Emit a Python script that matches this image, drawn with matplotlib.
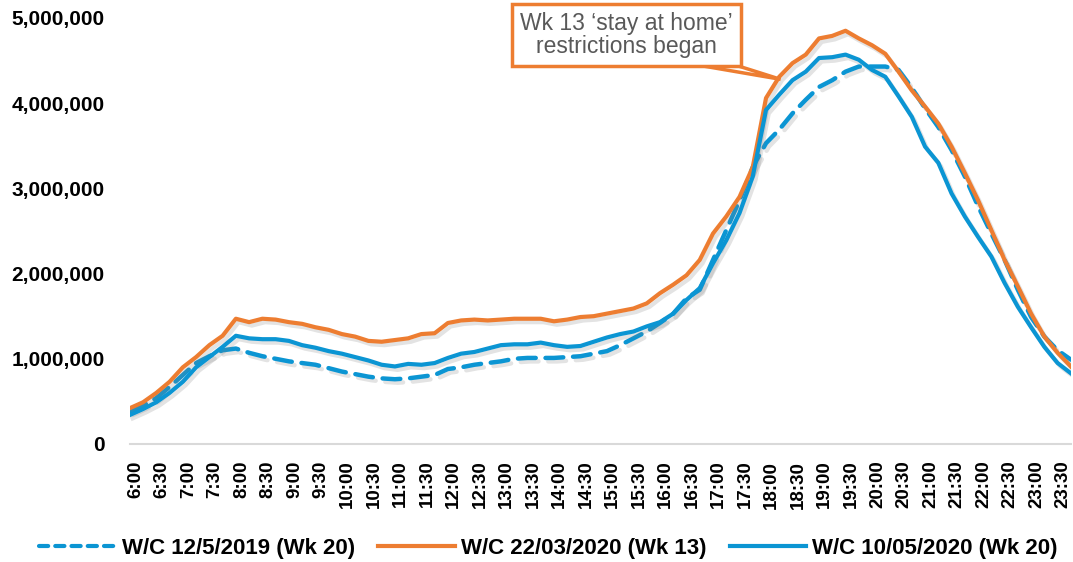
import numpy as np
import matplotlib
matplotlib.use('Agg')
import matplotlib.pyplot as plt
import matplotlib.patheffects as pe
from matplotlib.lines import Line2D
from matplotlib.patches import Polygon
from matplotlib.ticker import FuncFormatter
from matplotlib.transforms import ScaledTranslation

plt.rcParams['font.family'] = ['Liberation Sans', 'DejaVu Sans']

# 15 minute slots 6:00 .. 23:45
slots = [f'{h}:{m:02d}' for h in range(6, 24) for m in (0, 15, 30, 45)]
tick_labels = slots[::2]

# values in millions
wk20_2019 = [0.38, 0.45, 0.54, 0.67, 0.81, 0.95, 1.03, 1.10, 1.12, 1.07, 1.03, 1.00, 0.97, 0.95, 0.93,
             0.89, 0.85, 0.82, 0.79, 0.77, 0.76, 0.77, 0.79, 0.81, 0.88, 0.90, 0.93, 0.95, 0.97,
             1.00, 1.01, 1.01, 1.01, 1.02, 1.03, 1.06, 1.09, 1.16, 1.24, 1.32, 1.42, 1.53, 1.71,
             1.81, 2.16, 2.51, 2.86, 3.25, 3.53, 3.69, 3.88, 4.04, 4.19, 4.27, 4.37, 4.43, 4.43, 4.43,
             4.39, 4.18, 3.94, 3.72, 3.45, 3.14, 2.79, 2.47, 2.16, 1.81, 1.49, 1.26, 1.10, 0.99]
wk13_2020 = [0.42, 0.49, 0.60, 0.73, 0.90, 1.02, 1.16, 1.27, 1.47, 1.43, 1.47, 1.46, 1.43, 1.41, 1.37,
             1.34, 1.29, 1.26, 1.21, 1.20, 1.22, 1.24, 1.29, 1.30, 1.42, 1.45, 1.46, 1.45, 1.46,
             1.47, 1.47, 1.47, 1.44, 1.46, 1.49, 1.50, 1.53, 1.56, 1.59, 1.65, 1.77, 1.87, 1.98,
             2.16, 2.47, 2.67, 2.90, 3.25, 4.06, 4.31, 4.47, 4.57, 4.76, 4.79, 4.85, 4.76, 4.68, 4.58,
             4.37, 4.15, 3.96, 3.76, 3.49, 3.18, 2.86, 2.51, 2.16, 1.85, 1.53, 1.26, 1.07, 0.91]
wk20_2020 = [0.34, 0.41, 0.49, 0.60, 0.73, 0.90, 1.02, 1.14, 1.27, 1.24, 1.23, 1.23, 1.21, 1.16, 1.13,
             1.09, 1.06, 1.02, 0.98, 0.93, 0.91, 0.94, 0.93, 0.95, 1.01, 1.06, 1.08, 1.12, 1.16,
             1.17, 1.17, 1.19, 1.16, 1.14, 1.15, 1.20, 1.25, 1.29, 1.32, 1.38, 1.43, 1.53, 1.69,
             1.83, 2.12, 2.39, 2.71, 3.14, 3.92, 4.10, 4.27, 4.37, 4.53, 4.54, 4.57, 4.51, 4.39, 4.31,
             4.08, 3.84, 3.49, 3.30, 2.94, 2.67, 2.43, 2.20, 1.89, 1.61, 1.37, 1.14, 0.95, 0.83]

labels = ['W/C 12/5/2019 (Wk 20)', 'W/C 22/03/2020 (Wk 13)', 'W/C 10/05/2020 (Wk 20)']
orange = '#ED7D31'
blue = '#0B95D3'

x = np.arange(len(slots))
fig = plt.figure(figsize=(10.73, 5.62), dpi=100)
ax = fig.add_axes([0.121, 0.21, 0.877, 0.758])

shadow = [pe.SimpleLineShadow(offset=(2, -2.5), shadow_color='#808080', alpha=0.22), pe.Normal()]

ax.plot(x, np.array(wk20_2019) * 1e6, color=blue, lw=3.2, dashes=(4.0, 2.2),
        dash_capstyle='round', path_effects=shadow, zorder=3)
ax.plot(x, np.array(wk13_2020) * 1e6, color=orange, lw=3, path_effects=shadow, zorder=4)
ax.plot(x, np.array(wk20_2020) * 1e6, color=blue, lw=3, path_effects=shadow, zorder=5)

ax.set_xlim(0, len(slots) - 1)
ax.set_ylim(0, 5e6)
ax.set_yticks(np.arange(0, 5.01e6, 1e6))
ax.yaxis.set_major_formatter(FuncFormatter(lambda v, p: f'{int(v):,}'))
ax.set_xticks(x[::2])
ax.set_xticklabels(tick_labels, rotation=90)
ax.tick_params(axis='y', length=0, labelsize=15, pad=18)
ax.tick_params(axis='x', length=0, labelsize=13.5, pad=12)
for t in ax.get_xticklabels():
    t.set_fontweight('bold')
    t.set_transform(t.get_transform() + ScaledTranslation(4 / 72, 0, fig.dpi_scale_trans))
for t in ax.get_yticklabels():
    t.set_fontweight('bold')
for s in ['top', 'right', 'left']:
    ax.spines[s].set_visible(False)
ax.spines['bottom'].set_color('#D9D9D9')
ax.spines['bottom'].set_linewidth(1.5)

# callout
wedge = Polygon([(39.0, 4.55e6), (43.6, 4.55e6), (49.1, 4.28e6)], closed=True,
                facecolor='white', edgecolor=orange, lw=2.5, zorder=9, clip_on=False)
ax.add_patch(wedge)
ax.text(37.45, 4.80e6, 'Wk 13 \u2018stay at home\u2019\nrestrictions began', ha='center', va='center',
        fontsize=16.5, color='#595959', linespacing=1.0, zorder=10, clip_on=False,
        bbox=dict(boxstyle='square,pad=0.35', facecolor='white', edgecolor=orange, lw=2.5))

handles = [Line2D([], [], color=blue, lw=3, dashes=(2.2, 1.7), dash_capstyle='round'),
           Line2D([], [], color=orange, lw=3),
           Line2D([], [], color=blue, lw=3)]
fig.legend(handles, labels, loc='lower center', bbox_to_anchor=(0.511, -0.03), ncol=3, frameon=False,
           prop={'weight': 'bold', 'size': 16}, handlelength=3.45, handletextpad=0.27,
           columnspacing=1.05)

fig.savefig('out.png', dpi=100)
